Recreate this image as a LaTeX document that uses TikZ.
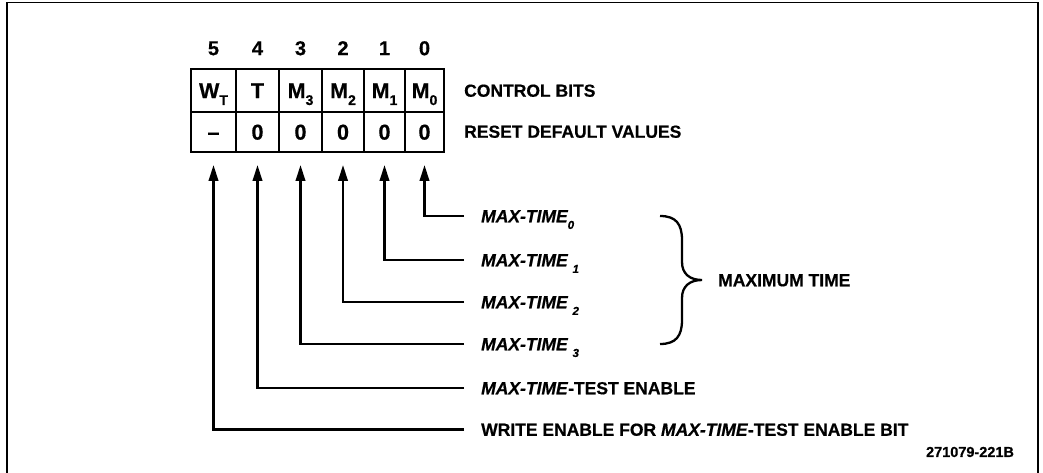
\documentclass[tikz,border=0pt]{standalone}
\usepackage{fontspec}
\setmainfont{Liberation Sans}[BoldFeatures={FakeBold=0.6},BoldItalicFeatures={FakeBold=0.6}]
\usetikzlibrary{arrows.meta}
\newcommand\cellsub[1]{\raisebox{-0.32em}{\fontsize{14}{14}\selectfont #1}}
\newcommand\lblsub[1]{\raisebox{-0.38em}{\fontsize{11.5}{11.5}\selectfont\itshape #1}}
\begin{document}
\begin{tikzpicture}[x=1pt,y=-1pt,
  cell/.style={draw, line width=2.6pt, inner sep=0pt, text height=15.2pt, text depth=0pt,
    font=\fontsize{21.5}{21.5}\selectfont\bfseries},
  bitnum/.style={inner sep=0pt, text height=14.3pt, text depth=0pt,
    font=\fontsize{20}{20}\selectfont\bfseries},
  lbl/.style={inner sep=0pt, anchor=west, text height=12.5pt, text depth=0pt,
    font=\fontsize{17.5}{17.5}\selectfont\bfseries},
  mt/.style={lbl, font=\fontsize{17.5}{17.5}\selectfont\bfseries\itshape},
  conn/.style={line width=2.3pt},
  arr/.style={conn, -{Triangle[length=16pt,width=9.5pt]}},
  frame/.style={line width=1.6pt}]
\useasboundingbox (0,0) rectangle (1043,473);
\draw[frame] (7,473) -- (7,2.5) -- (1038,2.5) -- (1038,473);

% bit numbers
\foreach \n/\x in {5/213.5,4/257.5,3/300.5,2/343,1/384.5,0/424.5}
  \node[bitnum] (n\n) at (\x,48) {\n};

% table cells: top row (control bits)
\node[cell, minimum width=45pt, minimum height=43pt] (c5) at (213.5,90.5) {W\cellsub{T}};
\node[cell, minimum width=43pt, minimum height=43pt] (c4) at (257.5,90.5) {T};
\node[cell, minimum width=43pt, minimum height=43pt] (c3) at (300.5,90.5) {M\cellsub{3}};
\node[cell, minimum width=42pt, minimum height=43pt] (c2) at (343,90.5) {M\cellsub{2}};
\node[cell, minimum width=41pt, minimum height=43pt] (c1) at (384.5,90.5) {M\cellsub{1}};
\node[cell, minimum width=39pt, minimum height=43pt] (c0) at (424.5,90.5) {M\cellsub{0}};
% bottom row (reset values)
\node[cell, minimum width=45pt, minimum height=40pt] (r5) at (213.5,132) {--};
\node[cell, minimum width=43pt, minimum height=40pt] (r4) at (257.5,132) {0};
\node[cell, minimum width=43pt, minimum height=40pt] (r3) at (300.5,132) {0};
\node[cell, minimum width=42pt, minimum height=40pt] (r2) at (343,132) {0};
\node[cell, minimum width=41pt, minimum height=40pt] (r1) at (384.5,132) {0};
\node[cell, minimum width=39pt, minimum height=40pt] (r0) at (424.5,132) {0};

\node[lbl] (cb) at (464,90.5) {CONTROL BITS};
\node[lbl] (rd) at (464,131.5) {RESET DEFAULT VALUES};

% arrow tips
\foreach \n/\x in {5/213.5,4/257.5,3/300.5,2/343,1/384.5,0/424.5}
  \coordinate (t\n) at (\x,165);

% line ends and labels
\coordinate (e0) at (464,216);
\coordinate (e1) at (464,260);
\coordinate (e2) at (464,302);
\coordinate (e3) at (464,344);
\coordinate (e4) at (464,388);
\coordinate (e5) at (464,429.5);

\node[mt] (l0) at (481,216) {MAX-TIME\lblsub{0}};
\node[mt] (l1) at (481,260) {MAX-TIME \lblsub{1}};
\node[mt] (l2) at (481,302) {MAX-TIME \lblsub{2}};
\node[mt] (l3) at (481,344) {MAX-TIME \lblsub{3}};
\node[lbl] (l4) at (481,388) {\textit{MAX-TIME}-TEST ENABLE};
\node[lbl] (l5) at (481,429.5) {WRITE ENABLE FOR \textit{MAX-TIME}-TEST ENABLE BIT};

\foreach \i in {0,...,5}
  \draw[arr] (e\i) -| (t\i);

% brace
\draw[conn] (660,216) .. controls (676,216) and (682,224) .. (682,240) -- (682,262)
  .. controls (682,274) and (690,280) .. (702,280)
  .. controls (690,280) and (682,286) .. (682,298) -- (682,320)
  .. controls (682,336) and (676,344) .. (660,344);
\node[lbl] (mx) at (718,280) {MAXIMUM TIME};

\node[inner sep=0pt, font=\fontsize{14.5}{14.5}\selectfont\bfseries] (fig) at (970,452) {271079-221B};
\end{tikzpicture}
\end{document}
